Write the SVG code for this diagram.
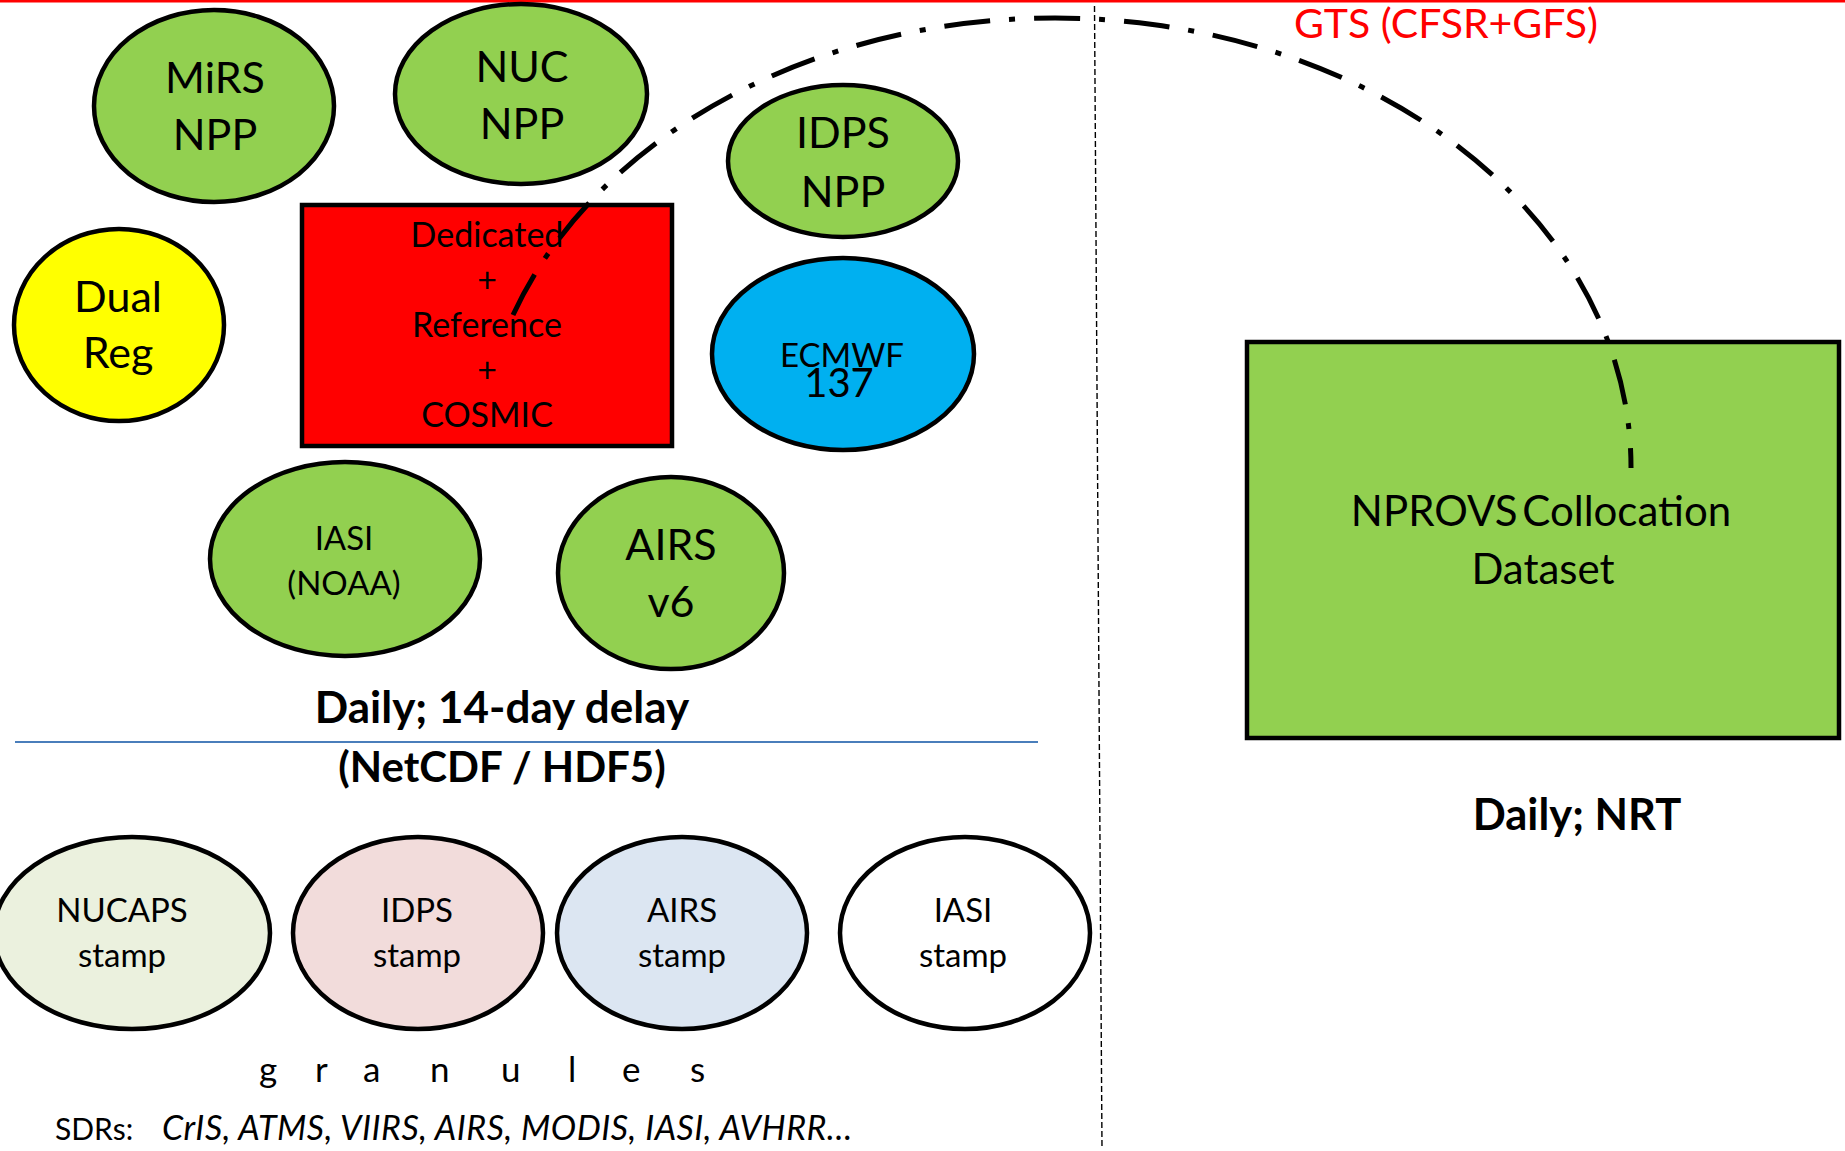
<svg xmlns="http://www.w3.org/2000/svg" width="1845" height="1151" viewBox="0 0 1845 1151">
  <style>
    .node { stroke: #000; stroke-width: 4.5; }
    .green { fill: #92d050; }
    .lbl { font-family: Lato, "Open Sans", "Liberation Sans", sans-serif; fill: #000; text-anchor: middle; }
    .big { font-size: 43px; }
    .mid { font-size: 33px; }
    .bold { font-weight: bold; font-size: 43px; }
    .link { fill: none; stroke: #000; stroke-width: 5; stroke-dasharray: 46 19 6 19; }
  </style>

  <rect x="0" y="0" width="1845" height="1151" fill="#ffffff"/>

  <!-- frame lines -->
  <rect x="0" y="0" width="1845" height="2.5" fill="#ff0000"/>
  <line x1="1094.5" y1="6" x2="1102" y2="1148" stroke="#000" stroke-width="1.4" stroke-dasharray="6 3"/>
  <line x1="15" y1="742" x2="1038" y2="742" stroke="#4a7ebb" stroke-width="1.8"/>

  <!-- 14-day delay sources -->
  <g id="mirs-npp">
    <ellipse class="node green" cx="214" cy="106" rx="120" ry="96"/>
    <text class="lbl big" x="215" y="93">MiRS</text>
    <text class="lbl big" x="215" y="150">NPP</text>
  </g>
  <g id="nuc-npp">
    <ellipse class="node green" cx="521" cy="94" rx="126" ry="90"/>
    <text class="lbl big" x="522" y="82">NUC</text>
    <text class="lbl big" x="522" y="139">NPP</text>
  </g>
  <g id="idps-npp">
    <ellipse class="node green" cx="843" cy="161" rx="115" ry="76"/>
    <text class="lbl big" x="843" y="148">IDPS</text>
    <text class="lbl big" x="843" y="207">NPP</text>
  </g>
  <g id="dual-reg">
    <ellipse class="node" fill="#ffff00" cx="119" cy="325" rx="105" ry="96"/>
    <text class="lbl big" x="118" y="312">Dual</text>
    <text class="lbl big" x="118" y="368">Reg</text>
  </g>
  <g id="dedicated">
    <rect class="node" fill="#ff0000" x="302" y="205" width="370" height="241"/>
    <text class="lbl" style="font-size:34px" x="487" y="247">Dedicated</text>
    <text class="lbl" style="font-size:34px" x="487" y="292">+</text>
    <text class="lbl" style="font-size:34px" x="487" y="337">Reference</text>
    <text class="lbl" style="font-size:34px" x="487" y="382">+</text>
    <text class="lbl" style="font-size:34px" x="487" y="427">COSMIC</text>
  </g>
  <g id="ecmwf">
    <ellipse class="node" fill="#00b0f0" cx="843" cy="354" rx="131" ry="96"/>
    <text class="lbl mid" x="842" y="367">ECMWF</text>
    <text class="lbl" style="font-size:40px" x="839" y="397">137</text>
  </g>
  <g id="iasi-noaa">
    <ellipse class="node green" cx="345" cy="559" rx="135" ry="97"/>
    <text class="lbl mid" x="344" y="550">IASI</text>
    <text class="lbl mid" x="344" y="595">(NOAA)</text>
  </g>
  <g id="airs-v6">
    <ellipse class="node green" cx="671" cy="573" rx="113" ry="96"/>
    <text class="lbl big" x="671" y="560">AIRS</text>
    <text class="lbl big" x="671" y="617">v6</text>
  </g>
  <text class="lbl bold" style="font-size:44px" x="502" y="723">Daily; 14-day delay</text>
  <text class="lbl bold" style="font-size:42px" x="502" y="782">(NetCDF / HDF5)</text>

  <!-- granule stamps -->
  <g id="nucaps-stamp">
    <ellipse class="node" fill="#ebf1de" cx="132" cy="933" rx="138" ry="96"/>
    <text class="lbl mid" x="122" y="922">NUCAPS</text>
    <text class="lbl mid" x="122" y="967">stamp</text>
  </g>
  <g id="idps-stamp">
    <ellipse class="node" fill="#f2dcdb" cx="418" cy="933" rx="125" ry="96"/>
    <text class="lbl mid" x="417" y="922">IDPS</text>
    <text class="lbl mid" x="417" y="967">stamp</text>
  </g>
  <g id="airs-stamp">
    <ellipse class="node" fill="#dce6f2" cx="682" cy="933" rx="125" ry="96"/>
    <text class="lbl mid" x="682" y="922">AIRS</text>
    <text class="lbl mid" x="682" y="967">stamp</text>
  </g>
  <g id="iasi-stamp">
    <ellipse class="node" fill="#ffffff" cx="965" cy="933" rx="125" ry="96"/>
    <text class="lbl mid" x="963" y="922">IASI</text>
    <text class="lbl mid" x="963" y="967">stamp</text>
  </g>
  <text class="lbl" style="text-anchor:start;font-size:35px" x="259 280 315 336 363 385 430 451 501 522 568 588 622 643 690" y="1082">g r a n u l e s</text>
  <text class="lbl" style="text-anchor:start;font-size:30px" x="55" y="1140">SDRs:  <tspan x="162" font-style="italic" style="font-size:34px;letter-spacing:0.5px">CrIS, ATMS, VIIRS, AIRS, MODIS, IASI, AVHRR…</tspan></text>

  <!-- near-real-time output -->
  <g id="nprovs">
    <rect class="node" fill="#92d050" x="1247" y="342" width="592" height="396"/>
    <text class="lbl" style="font-size:42px;word-spacing:-6px" x="1541" y="526">NPROVS Collocation</text>
    <text class="lbl" style="font-size:42px" x="1543" y="584">Dataset</text>
  </g>
  <text class="lbl bold" style="font-size:43.5px" x="1577" y="830">Daily; NRT</text>
  <text class="lbl" style="font-size:41px;fill:#ff0000" x="1446" y="38">GTS (CFSR+GFS)</text>

  <!-- GTS feed -->
  <g id="connectors">
    <path class="link" d="M 513 315 A 576 449 0 0 1 1631 468"/>
  </g>
</svg>
